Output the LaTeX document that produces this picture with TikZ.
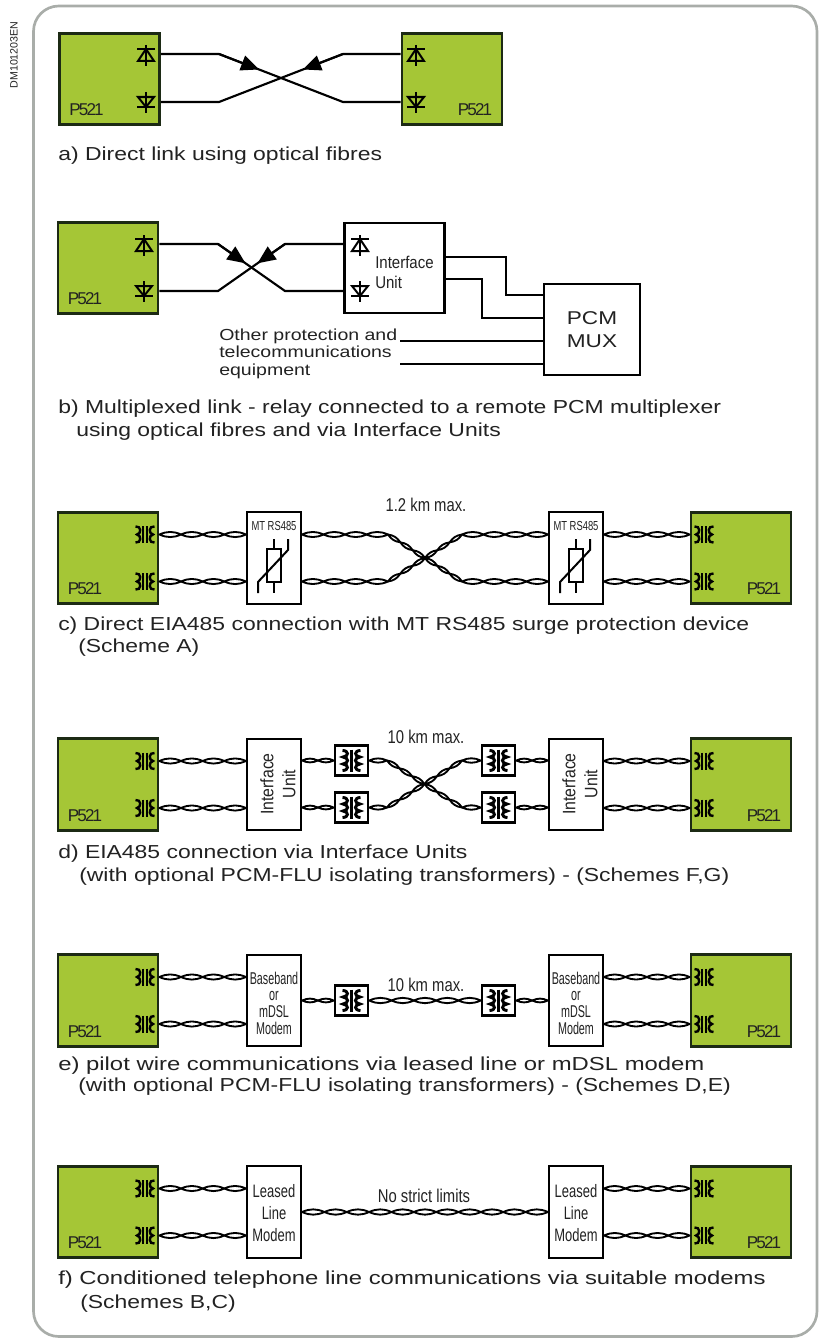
\documentclass[tikz,border=0pt]{standalone}
\usepackage{fontspec}
\setmainfont{Liberation Sans}
\newfontfamily\capfont[FakeStretch=1.22]{Liberation Sans}
\newfontfamily\capwidefont[FakeStretch=1.27]{Liberation Sans}
\newfontfamily\boxfont[FakeStretch=0.72]{Liberation Sans}
\newfontfamily\modemfont[FakeStretch=0.63]{Liberation Sans}
\newfontfamily\rangefont[FakeStretch=0.8]{Liberation Sans}
\newfontfamily\unitfont[FakeStretch=0.88]{Liberation Sans}
\newfontfamily\relayfont[LetterSpace=-11]{Liberation Sans}
\usetikzlibrary{positioning, arrows.meta, calc}
\definecolor{relaygreen}{HTML}{A5C636}
\definecolor{relayedge}{HTML}{1C2A14}
\definecolor{panelgray}{HTML}{A9ADA9}
\definecolor{inkgray}{HTML}{222222}
\tikzset{
  relay/.style={draw=relayedge, fill=relaygreen, line width=2.1pt, minimum width=75pt, minimum height=68.5pt},
  plainbox/.style={draw=black, fill=white, line width=1.6pt, align=center, inner sep=0pt},
  modembox/.style={plainbox, minimum width=40.5pt, minimum height=68.5pt},
  coilbox/.style={plainbox, minimum width=25pt, minimum height=22.5pt},
  plabel/.style={text=inkgray, font=\relayfont\fontsize{12.8pt}{14pt}\selectfont, inner sep=0pt},
  captext/.style={text=inkgray, anchor=west, inner sep=0pt, text height=13pt, text depth=3pt,
    font=\capfont\fontsize{14.1pt}{16pt}\selectfont},
  capwide/.style={captext, font=\capwidefont\fontsize{14.1pt}{16pt}\selectfont},
  smalltext/.style={text=inkgray, anchor=west, inner sep=0pt, text height=12pt, text depth=3pt,
    font=\capfont\fontsize{12pt}{14pt}\selectfont},
  rangetext/.style={text=inkgray, inner sep=0pt, font=\rangefont\fontsize{13.9pt}{16pt}\selectfont},
  modemtext/.style={text=inkgray, inner sep=0pt, align=center},
  fibre/.style={line width=1.6pt},
  fibretip/.style={fibre, -{Triangle[length=13.5pt,width=11.5pt]}},
  twistline/.style={line width=1.4pt, line join=round},
  symline/.style={line width=1.5pt},
  diodeup/.pic={
    \draw[symline] (0,-9) -- (0,12) (-9,-5) -- (9,-5);
    \draw[symline] (0,-5) -- (-8,7) -- (8,7) -- cycle;},
  diodedown/.pic={
    \draw[symline] (0,-10) -- (0,11) (-9,5) -- (9,5);
    \draw[symline] (0,5) -- (-8,-5) -- (8,-5) -- cycle;},
  coilport/.pic={
    \draw[line width=1.1pt] (-2,-8.5) -- (-2,8.5) (2,-8.5) -- (2,8.5);
    \foreach \s in {-1,1} {
      \draw[line width=1.8pt] (\s*9.5,-8) .. controls (\s*3.5,-9) and (\s*3.5,-0.5) .. (\s*8,0)
        .. controls (\s*3.5,0.5) and (\s*3.5,9) .. (\s*9.5,8);}},
  xfmr/.pic={
    \draw[line width=2.4pt] (0,-11) -- (0,11);
    \foreach \s in {-1,1} {
      \draw[line width=2.2pt] (\s*9,-10) .. controls (\s*2.5,-10) and (\s*2.5,-4) .. (\s*8.5,-3.5)
        .. controls (\s*2.5,-3) and (\s*2.5,3) .. (\s*8.5,3.5)
        .. controls (\s*2.5,4) and (\s*2.5,10) .. (\s*9,10);}},
  varistor/.pic={
    \draw[symline] (0,-20) -- (0,-10) (0,23) -- (0,34);
    \draw[symline] (-7,-10) rectangle (7,23);
    \draw[symline] (-16,34) -- (-16,23) -- (14,-9) -- (14,-20);}
}
% twisted pair between two points, last value is the number of lobes
\newcommand{\twist}[3]{
  \foreach \i in {1,...,#3} {
    \pgfmathsetmacro{\ta}{(\i-1)/#3}
    \pgfmathsetmacro{\tb}{\i/#3}
    \draw[twistline] ($#1!\ta!#2$) to[bend left=24] ($#1!\tb!#2$) to[bend left=24] cycle;
  }}

\begin{document}
\begin{tikzpicture}[x=0.75pt, y=-0.75pt]
    \useasboundingbox (0,0) rectangle (819,1338);
    \draw[panelgray, line width=2pt, rounded corners=19pt] (33.5,6) rectangle (817,1336.5);
    \node[rotate=90, text=inkgray, font=\fontsize{8pt}{9pt}\selectfont, inner sep=0pt] (ref) at (14,55) {DM101203EN};

    % green relays of all six links
    \foreach \n/\x/\y/\s in {a1/109.5/79/1, a2/452/79/-1, b1/108/268/1} {
      \node[relay] (\n) at (\x,\y) {};
      \node[plabel] (\n t) at ($(\n)+(-23*\s,31)$) {P521};
    }
    \foreach \n/\x/\y/\s in {c1/108/558/1, c2/741/558/-1, d1/108/784.5/1, d2/741/784.5/-1,
        e1/108/1000.5/1, e2/741/1000.5/-1, f1/108/1212/1, f2/741/1212/-1} {
      \node[relay] (\n) at (\x,\y) {};
      \node[plabel] (\n t) at ($(\n)+(-23*\s,31)$) {P521};
      \coordinate (\n u) at ($(\n)+(37*\s,-23.5)$);
      \coordinate (\n d) at ($(\n)+(37*\s,23.5)$);
      \pic at (\n u) {coilport};
      \pic at (\n d) {coilport};
    }

    % a) optical fibres
    \coordinate (a1u) at (146,54);
    \coordinate (a1d) at (146,102);
    \coordinate (a2u) at (416,54);
    \coordinate (a2d) at (416,102);
    \foreach \p in {a1u,a2u} \pic at (\p) {diodeup};
    \foreach \p in {a1d,a2d} \pic at (\p) {diodedown};
    \coordinate (ap) at (219,54);
    \coordinate (aq) at (343,102);
    \coordinate (ar) at (219,102);
    \coordinate (as) at (343,54);
    \draw[fibre] (ap -| a1.east) -- (ap) -- (aq) -- (aq -| a2.west);
    \draw[fibre] (ar -| a1.east) -- (ar) -- (as) -- (as -| a2.west);
    \draw[fibretip] (ap) -- ($(ap)!0.323!(aq)$);
    \draw[fibretip] (as) -- ($(as)!0.323!(ar)$);
    \node[captext] (capa) at (58,154) {a) Direct link using optical fibres};

    % b) multiplexed
    \coordinate (b1u) at (144,244);
    \coordinate (b1d) at (144,291);
    \pic at (b1u) {diodeup};
    \pic at (b1d) {diodedown};
    \node[plainbox, minimum width=75pt, minimum height=68pt] (iu) at (394.5,268) {};
    \coordinate (b2u) at (360,244);
    \coordinate (b2d) at (360,291);
    \pic at (b2u) {diodeup};
    \pic at (b2d) {diodedown};
    \node[anchor=west, text=inkgray, inner sep=0pt, align=left,
          font=\unitfont\fontsize{12.8pt}{15pt}\selectfont] (iut) at (375,272) {Interface\\Unit};
    \node[plainbox, minimum width=72pt, minimum height=68pt,
          font=\capfont\fontsize{13.9pt}{17pt}\selectfont, text=inkgray] (pcm) at (592,329.5) {PCM\\MUX};
    \coordinate (bp) at (218,244);
    \coordinate (bq) at (285,291);
    \coordinate (br) at (218,291);
    \coordinate (bs) at (285,244);
    \draw[fibre] (bp -| b1.east) -- (bp) -- (bq) -- (bq -| iu.west);
    \draw[fibre] (br -| b1.east) -- (br) -- (bs) -- (bs -| iu.west);
    \draw[fibretip] (bp) -- ($(bp)!0.41!(bq)$);
    \draw[fibretip] (bs) -- ($(bs)!0.41!(br)$);
    \coordinate (w1) at (506,257);
    \coordinate (w2) at (506,295);
    \coordinate (w3) at (482,279);
    \coordinate (w4) at (482,318);
    \draw[fibre] (w1 -| iu.east) -- (w1) -- (w2) -- (w2 -| pcm.west);
    \draw[fibre] (w3 -| iu.east) -- (w3) -- (w4) -- (w4 -| pcm.west);
    \coordinate (w5) at (400,341);
    \coordinate (w6) at (400,364);
    \draw[fibre] (w5) -- (w5 -| pcm.west);
    \draw[fibre] (w6) -- (w6 -| pcm.west);
    \node[smalltext] (ot1) at (219,334) {Other protection and};
    \node[smalltext] (ot2) at (219,351.5) {telecommunications};
    \node[smalltext] (ot3) at (219,369) {equipment};
    \node[captext] (capb1) at (58,407) {b) Multiplexed link - relay connected to a remote PCM multiplexer};
    \node[captext] (capb2) at (76,430) {using optical fibres and via Interface Units};

    % c) direct EIA485
    \foreach \n/\x in {c3/274, c4/576} {
      \node[modembox] (\n) at (\x,558) {};
      \node[text=inkgray, font=\boxfont\fontsize{9.8pt}{11pt}\selectfont, inner sep=0pt] (\n t) at (\x,526) {MT RS485};
      \pic at (\x,559) {varistor};
    }
    \twist{(c1u -| c1.east)}{(c1u -| c3.west)}{4}
    \twist{(c1d -| c1.east)}{(c1d -| c3.west)}{4}
    \twist{(c1u -| c4.east)}{(c1u -| c2.west)}{4}
    \twist{(c1d -| c4.east)}{(c1d -| c2.west)}{4}
    \coordinate (cp) at (388,534.5);
    \coordinate (cq) at (462,581.5);
    \coordinate (cr) at (388,581.5);
    \coordinate (cs) at (462,534.5);
    \twist{(cp -| c3.east)}{(cp)}{4}
    \twist{(cr -| c3.east)}{(cr)}{4}
    \twist{(cs)}{(cs -| c4.west)}{4}
    \twist{(cq)}{(cq -| c4.west)}{4}
    \twist{(cp)}{(cq)}{6}
    \twist{(cr)}{(cs)}{6}
    \node[rangetext] (cr1) at (426,505) {1.2 km max.};
    \node[captext] (capc1) at (58,624) {c) Direct EIA485 connection with MT RS485 surge protection device};
    \node[captext] (capc2) at (78,646) {(Scheme A)};

    % d) via Interface Units
    \foreach \n/\x in {d3/274, d4/576} {
      \node[modembox] (\n) at (\x,784.5) {};
      \node[modemtext, rotate=90, font=\unitfont\fontsize{13.5pt}{16.5pt}\selectfont] (\n t) at (\x+4,784) {Interface\\Unit};
    }
    \foreach \n/\x/\y in {d5/351.5/760.5, d6/351.5/807.5, d7/498.5/760.5, d8/498.5/807.5} {
      \node[coilbox] (\n) at (\x,\y) {};
      \pic at (\n) {xfmr};
    }
    \twist{(d1u -| d1.east)}{(d1u -| d3.west)}{4}
    \twist{(d1d -| d1.east)}{(d1d -| d3.west)}{4}
    \twist{(d1u -| d4.east)}{(d1u -| d2.west)}{4}
    \twist{(d1d -| d4.east)}{(d1d -| d2.west)}{4}
    \twist{(d5.west -| d3.east)}{(d5.west)}{2}
    \twist{(d6.west -| d3.east)}{(d6.west)}{2}
    \twist{(d7.east)}{(d7.east -| d4.west)}{2}
    \twist{(d8.east)}{(d8.east -| d4.west)}{2}
    \coordinate (dp) at (387,760.5);
    \coordinate (dq) at (462,807.5);
    \coordinate (dr) at (387,807.5);
    \coordinate (ds) at (462,760.5);
    \twist{(d5.east)}{(dp)}{1}
    \twist{(d6.east)}{(dr)}{1}
    \twist{(ds)}{(d7.west)}{1}
    \twist{(dq)}{(d8.west)}{1}
    \twist{(dp)}{(dq)}{6}
    \twist{(dr)}{(ds)}{6}
    \node[rangetext] (dr1) at (426,737) {10 km max.};
    \node[captext] (capd1) at (58,852) {d) EIA485 connection via Interface Units};
    \node[captext] (capd2) at (79,875) {(with optional PCM-FLU isolating transformers) - (Schemes F,G)};

    % e) pilot wire
    \foreach \n/\x in {e3/274, e4/576} {
      \node[modembox] (\n) at (\x,1000.5) {};
      \node[modemtext, font=\modemfont\fontsize{12.8pt}{12.5pt}\selectfont] (\n t) at (\x,1003) {Baseband\\or\\mDSL\\Modem};
    }
    \foreach \n/\x in {e5/351.5, e6/498.5} {
      \node[coilbox] (\n) at (\x,1000.5) {};
      \pic at (\n) {xfmr};
    }
    \twist{(e1u -| e1.east)}{(e1u -| e3.west)}{4}
    \twist{(e1d -| e1.east)}{(e1d -| e3.west)}{4}
    \twist{(e1u -| e4.east)}{(e1u -| e2.west)}{4}
    \twist{(e1d -| e4.east)}{(e1d -| e2.west)}{4}
    \twist{(e3.east)}{(e5.west)}{2}
    \twist{(e5.east)}{(e6.west)}{5}
    \twist{(e6.east)}{(e4.west)}{2}
    \node[rangetext] (er1) at (426,985) {10 km max.};
    \node[capwide] (cape1) at (58,1064) {e) pilot wire communications via leased line or mDSL modem};
    \node[captext] (cape2) at (78,1085) {(with optional PCM-FLU isolating transformers) - (Schemes D,E)};

    % f) telephone line
    \foreach \n/\x in {f3/274, f4/576} {
      \node[modembox] (\n) at (\x,1212) {};
      \node[modemtext, font=\boxfont\fontsize{13.5pt}{16.5pt}\selectfont] (\n t) at (\x,1213) {Leased\\Line\\Modem};
    }
    \twist{(f1u -| f1.east)}{(f1u -| f3.west)}{4}
    \twist{(f1d -| f1.east)}{(f1d -| f3.west)}{4}
    \twist{(f1u -| f4.east)}{(f1u -| f2.west)}{4}
    \twist{(f1d -| f4.east)}{(f1d -| f2.west)}{4}
    \twist{(f3.east)}{(f4.west)}{11}
    \node[rangetext] (fr1) at (424,1196) {No strict limits};
    \node[capwide] (capf1) at (58,1278) {f) Conditioned telephone line communications via suitable modems};
    \node[captext] (capf2) at (80,1302) {(Schemes B,C)};
\end{tikzpicture}
\end{document}
